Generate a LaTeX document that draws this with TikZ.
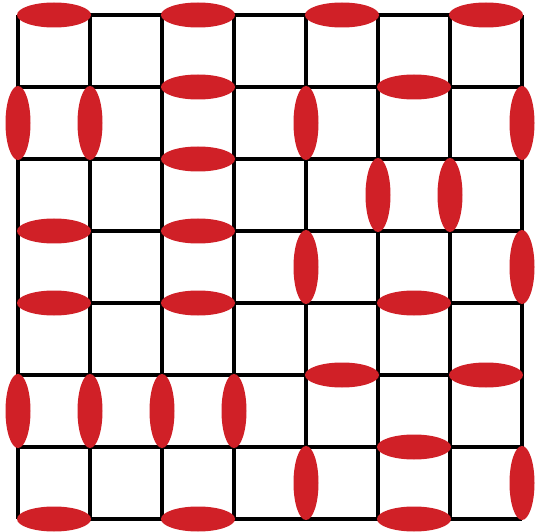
\documentclass[tikz,border=0pt]{standalone}
\definecolor{dimer}{HTML}{D02027}
\tikzset{
  gridline/.style={line width=4pt, black},
  hdimer/.style={fill=dimer, x radius=37, y radius=12.5},
  vdimer/.style={fill=dimer, x radius=12.5, y radius=37}
}
\begin{document}
\begin{tikzpicture}[x=1pt,y=-1pt]
\useasboundingbox (0,0) rectangle (536,532);
% grid
\foreach \i in {0,...,7} {
  \draw[gridline] (18+72*\i,15) -- (18+72*\i,519);
  \draw[gridline] (18,15+72*\i) -- (522,15+72*\i);
}
% horizontal dimers: (x-center, y)
\foreach \x/\y in {54/15,198/15,342/15,486/15,
  198/87,414/87, 198/159, 54/231,198/231,
  54/303,198/303,414/303, 342/375,486/375,
  414/447, 54/519,198/519,414/519} {
  \fill[hdimer] (\x,\y) ellipse [];
}
% vertical dimers
\foreach \x/\y in {18/123,90/123,306/123,522/123,
  378/195,450/195, 306/267,522/267,
  18/411,90/411,162/411,234/411, 306/483,522/483} {
  \fill[vdimer] (\x,\y) ellipse [];
}
\end{tikzpicture}
\end{document}
